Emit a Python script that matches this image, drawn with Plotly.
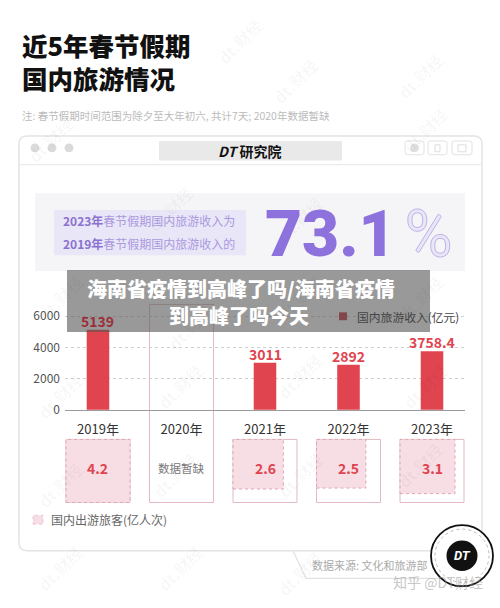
import plotly.graph_objects as go
import math

# ---------------- data ----------------
years = ["2019年", "2020年", "2021年", "2022年", "2023年"]
revenue = [5139, None, 3011, 2892, 3758.4]          # 国内旅游收入(亿元)
travelers = [4.2, None, 2.6, 2.5, 3.1]               # 国内出游旅客(亿人次)
traveler_labels = ["4.2", "数据暂缺", "2.6", "2.5", "3.1"]
y_ticks = [0, 2000, 4000, 6000]

W, H = 500, 608
def X(px): return px / W
def Y(py): return 1 - py / H

RED = "#E0444F"
CJK = "Noto Sans CJK SC"

fig = go.Figure()
fig.add_trace(go.Bar(
    x=years, y=revenue, width=0.27, marker=dict(color=RED, line=dict(width=0)),
    showlegend=False, hoverinfo="skip"))

shapes = []
ann = []

# value labels on bars (2019 label sits under the grey banner in the reference)
for i, (yr, v) in enumerate(zip(years, revenue)):
    if v is None:
        continue
    ann.append(dict(x=yr, y=v, xref="x", yref="y", text=f"<b>{v:g}</b>", showarrow=False,
                    xanchor="center", yanchor="bottom", yshift=-3,
                    font=dict(family=CJK, size=14, color=("#9B2F39" if i == 0 else RED), weight=700)))

def rrect(x0, y0, x1, y1, r):
    return (f"M {X(x0+r)},{Y(y0)} L {X(x1-r)},{Y(y0)} Q {X(x1)},{Y(y0)} {X(x1)},{Y(y0+r)} "
            f"L {X(x1)},{Y(y1-r)} Q {X(x1)},{Y(y1)} {X(x1-r)},{Y(y1)} L {X(x0+r)},{Y(y1)} "
            f"Q {X(x0)},{Y(y1)} {X(x0)},{Y(y1-r)} L {X(x0)},{Y(y0+r)} Q {X(x0)},{Y(y0)} {X(x0+r)},{Y(y0)} Z")

def rect(x0, y0, x1, y1, fill="rgba(0,0,0,0)", line=None, lw=1, dash="solid", layer="below"):
    shapes.append(dict(type="rect", xref="paper", yref="paper", x0=X(x0), x1=X(x1), y0=Y(y1), y1=Y(y0),
                       fillcolor=fill, line=dict(color=line or "rgba(0,0,0,0)", width=lw if line else 0, dash=dash),
                       layer=layer))

def circle(cx, cy, r, fill="rgba(0,0,0,0)", line=None, lw=1, dash="solid", layer="above"):
    shapes.append(dict(type="circle", xref="paper", yref="paper", x0=X(cx-r), x1=X(cx+r), y0=Y(cy+r), y1=Y(cy-r),
                       fillcolor=fill, line=dict(color=line or "rgba(0,0,0,0)", width=lw if line else 0, dash=dash),
                       layer=layer))

def text(x, y, s, size=12, color="#333", xa="center", weight=400, family=CJK, angle=0, **kw):
    ann.append(dict(x=X(x), y=Y(y), xref="paper", yref="paper", text=s, showarrow=False,
                    xanchor=xa, yanchor="middle", textangle=angle, align="left",
                    font=dict(family=family, size=size, color=color, weight=weight, **kw)))

# watermarks
for (wx, wy) in [(240, 40), (295, 80), (420, 75), (50, 140), (170, 210), (300, 220), (425, 130),
                 (60, 300), (190, 330), (300, 300), (420, 300), (60, 400), (180, 390), (300, 380), (425, 390),
                 (60, 490), (175, 480), (300, 480), (420, 470), (60, 575), (180, 575), (300, 580)]:
    text(wx, wy, "<b>dt.</b>财经", size=16, color="rgba(0,0,0,0.035)", angle=-45, weight=700)

# title + note
text(20, 60, "近5年春节假期<br>国内旅游情况", size=25.5, color="#111", xa="left", weight=900)
text(20, 115, "注: 春节假期时间范围为除夕至大年初六, 共计7天; 2020年数据暂缺", size=10.5, color="#BBBBBB", xa="left")

# card
shapes.append(dict(type="path", xref="paper", yref="paper", path=rrect(19, 136, 482, 557, 8),
                   fillcolor="white", line=dict(color="#E4E4E4", width=1.5), layer="below"))
shapes.append(dict(type="line", xref="paper", yref="paper", x0=X(19), x1=X(482), y0=Y(165), y1=Y(165),
                   line=dict(color="#EBEBEB", width=1.2), layer="below"))
for cx in (35, 52, 69):
    circle(cx, 148, 4.5, fill="#DADADA", layer="below")
rect(159, 141, 342, 161, fill="#E9E9E9")
text(250, 151, "<b><i>DT</i></b> <b>研究院</b>", size=14, color="#111", weight=700)
for (a, b) in [(405, 424), (428, 447), (452, 472)]:
    shapes.append(dict(type="path", xref="paper", yref="paper", path=rrect(a, 141, b, 155, 2.5),
                       fillcolor="white", line=dict(color="#E2E2E2", width=1), layer="below"))
circle(414.5, 148, 4.5, fill="#E0E0E0", layer="below")
rect(435, 145, 440, 152, line="#DDDDDD", lw=1)
rect(458, 145, 466, 152, line="#DDDDDD", lw=1)

# highlight panel
rect(35, 194, 465, 273, fill="#F5F5F7")
rect(54, 211, 246, 257, fill="#E9E6F8")
text(61, 222, "<b><span style='color:#8A72D0'>2023年</span></b><span style='color:#A999DE'>春节假期国内旅游收入为</span>",
     size=12, xa="left")
text(61, 245, "<b><span style='color:#8A72D0'>2019年</span></b><span style='color:#A999DE'>春节假期国内旅游收入的</span>",
     size=12, xa="left")
text(330, 236, "73.1", size=64, color="#8D71DD", weight=900, family="Roboto")
text(428, 236, "%", size=64, color="#EAE6F8", weight=300, family="Roboto",
     shadow="1px 0 0 #BDB2E6, -1px 0 0 #BDB2E6, 0 1px 0 #BDB2E6, 0 -1px 0 #BDB2E6")

# column boxes (travelers)
half = 0.383
px_per_unit = 83.5
for i, (yr, v, lab) in enumerate(zip(years, travelers, traveler_labels)):
    top = 307 if v is None else 444
    shapes.append(dict(type="rect", xref="x", yref="paper", x0=i - half, x1=i + half, y0=Y(508), y1=Y(top),
                       fillcolor="rgba(0,0,0,0)", line=dict(color="#E3BAC2", width=1), layer="below"))
    if v is not None:
        side = 64 * math.sqrt(v / max(t for t in travelers if t is not None))
        shapes.append(dict(type="rect", xref="x", yref="paper", x0=i - half, x1=i - half + side / px_per_unit,
                           y0=Y(444 + side), y1=Y(444), fillcolor="#F7DDE4",
                           line=dict(color="#DFA7B3", width=1, dash="dot"), layer="below"))
        ann.append(dict(x=i, y=Y(473), xref="x", yref="paper", text=f"<b>{lab}</b>", showarrow=False,
                        xanchor="center", yanchor="middle", font=dict(family=CJK, size=14, color=RED, weight=700)))
    else:
        ann.append(dict(x=i, y=Y(473), xref="x", yref="paper", text=lab, showarrow=False,
                        xanchor="center", yanchor="middle", font=dict(family=CJK, size=11.5, color="#777")))

# legends
rect(339, 315, 347, 323, fill="#C9303C", layer="above")
text(355, 319, "国内旅游收入(亿元)", size=11.8, color="#444", xa="left")
rect(33, 521, 43, 530, fill="#F7DDE4", line="#E8BCC6", lw=0.8, dash="dot")
text(49, 525, "国内出游旅客(亿人次)", size=12, color="#666", xa="left")

# gray overlay banner
rect(67, 272, 430, 335, fill="rgba(85,85,85,0.6)", layer="above")
text(241, 291, "海南省疫情到高峰了吗/海南省疫情", size=20, color="white", weight=900)
text(239, 318, "到高峰了吗今天", size=20, color="white", weight=900)

# source tab
shapes.append(dict(type="path", xref="paper", yref="paper",
                   path=f"M {X(293)},{Y(557)} L {X(306)},{Y(585)} L {X(445)},{Y(585)}",
                   line=dict(color="#E2E2E2", width=1.2), layer="below"))
text(310, 571, "数据来源: 文化和旅游部", size=11, color="#AAAAAA", xa="left")

# DT logo
circle(462, 562, 31, fill="white", line="#111", lw=1.8)
circle(462, 562, 27, line="#AAAAAA", lw=0.8, dash="dot")
circle(462, 562, 15.5, fill="#111")
text(462, 562, "<b><i>DT</i></b>", size=13, color="white", family="Roboto", weight=900)
text(485, 589, "知乎 @DT财经", size=14, color="rgba(150,150,150,0.55)", xa="right")

fig.update_layout(
    width=W, height=H, margin=dict(l=0, r=0, t=0, b=0),
    paper_bgcolor="white", plot_bgcolor="rgba(0,0,0,0)",
    shapes=shapes, annotations=ann, bargap=0.5,
    xaxis=dict(domain=[X(65), X(465)], range=[-0.395, 4.395], type="category",
               showline=True, linecolor="#9A9A9A", linewidth=1.2, ticks="", showgrid=False,
               tickfont=dict(family=CJK, size=13, color="#333"), ticklabelstandoff=7, fixedrange=True),
    yaxis=dict(domain=[Y(414), Y(311)], range=[0, 6500], tickvals=y_ticks,
               showgrid=True, gridcolor="#CFCFCF", griddash="dot", gridwidth=1, zeroline=False,
               showline=False, ticks="", tickfont=dict(family=CJK, size=12, color="#555"),
               ticklabelstandoff=4, fixedrange=True),
    font=dict(family=CJK),
)
fig.write_html("out.html", config={"displayModeBar": False},
               post_script="document.body.style.margin='0';document.body.style.overflow='hidden';")
